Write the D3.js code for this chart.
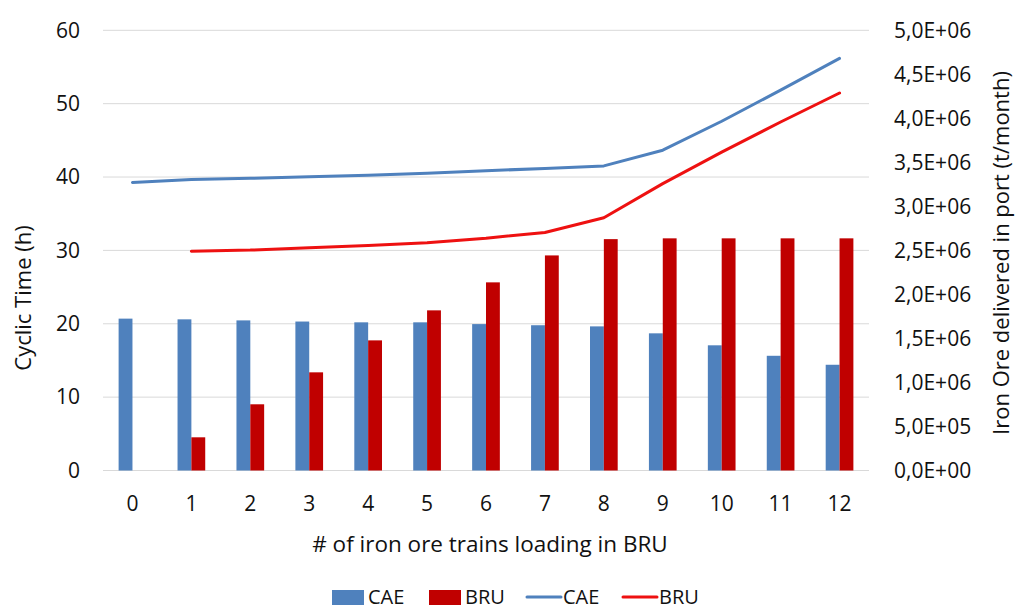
<!DOCTYPE html>
<html>
<head>
<meta charset="utf-8">
<script src="https://cdn.jsdelivr.net/npm/d3@7"></script>
<style>
  html, body { margin: 0; padding: 0; background: #fff; }
  svg { display: block; font-family: "Open Sans", Lato, sans-serif; }
</style>
</head>
<body>
<svg id="chart" width="1016" height="610"></svg>
<script>
// Number of iron ore trains loading in BRU
const categories = [0, 1, 2, 3, 4, 5, 6, 7, 8, 9, 10, 11, 12];

// Iron ore delivered in port (t/month) – bars, right axis
const caeDelivered = [1725000, 1717000, 1705000, 1692000, 1683000, 1683000, 1663000, 1650000, 1637000, 1558000, 1422000, 1303000, 1201000];
const bruDelivered = [0, 377000, 752000, 1115000, 1478000, 1819000, 2137000, 2443000, 2628000, 2637000, 2637000, 2637000, 2637000];

// Cyclic time (h) – lines, left axis
const caeCycle = [39.26, 39.68, 39.82, 40.05, 40.26, 40.5, 40.86, 41.17, 41.52, 43.66, 47.6, 51.85, 56.17];
const bruCycle = [null, 29.9, 30.04, 30.36, 30.66, 31.05, 31.66, 32.45, 34.45, 39.1, 43.4, 47.5, 51.45];

const leftTicks = [0, 10, 20, 30, 40, 50, 60];
const rightTicks = [0, 500000, 1000000, 1500000, 2000000, 2500000, 3000000, 3500000, 4000000, 4500000, 5000000];

const seriesNames = ["CAE", "BRU"];
const barColors = { CAE: "#4f81bd", BRU: "#c00000" };
const lineColors = { CAE: "#4f81bd", BRU: "#ee1111" };

const svg = d3.select("#chart");
const plot = { left: 103, right: 869, top: 30.3, bottom: 470.5 };

const x = d3.scaleBand().domain(categories).range([plot.left, plot.right]).paddingInner(0).paddingOuter(0);
const bw = x.bandwidth();
const xInner = d3.scaleBand().domain(seriesNames).range([bw * 0.265, bw * 0.735]);

const yLeft = d3.scaleLinear().domain([0, 60]).range([plot.bottom, plot.top]);
const yRight = d3.scaleLinear().domain([0, 5000000]).range([plot.bottom, plot.top]);

// Excel-style scientific labels with decimal comma, e.g. 5,0E+06
const sci = d3.format(".1e");
function sciComma(v) {
  const [m, e] = sci(v).split("e");
  const sign = e[0];
  const exp = e.slice(1).padStart(2, "0");
  return m.replace(".", ",") + "E" + sign + exp;
}

// Horizontal gridlines
svg.append("g")
  .selectAll("line")
  .data(leftTicks)
  .join("line")
  .attr("x1", plot.left).attr("x2", plot.right)
  .attr("y1", d => yLeft(d)).attr("y2", d => yLeft(d))
  .attr("stroke", "#d9d9d9").attr("stroke-width", 1);

// Left axis
const leftAxis = svg.append("g")
  .attr("transform", `translate(${plot.left - 23},0)`)
  .call(d3.axisLeft(yLeft).tickValues(leftTicks).tickSize(0).tickPadding(0));
leftAxis.select(".domain").remove();

// Right axis
const rightAxis = svg.append("g")
  .attr("transform", `translate(${plot.right + 25},0)`)
  .call(d3.axisRight(yRight).tickValues(rightTicks).tickSize(0).tickPadding(0).tickFormat(sciComma));
rightAxis.select(".domain").remove();

// Bottom axis
const bottomAxis = svg.append("g")
  .attr("transform", `translate(0,${plot.bottom + 26})`)
  .call(d3.axisBottom(x).tickSize(0).tickPadding(0));
bottomAxis.select(".domain").remove();

svg.selectAll(".tick text")
  .attr("font-size", 21)
  .attr("font-family", "'Open Sans', Lato, sans-serif")
  .attr("fill", "#111");

// Bars
const barData = categories.map((c, i) => ({ c, values: [
  { key: "CAE", v: caeDelivered[i] },
  { key: "BRU", v: bruDelivered[i] }
]}));

svg.append("g")
  .selectAll("g")
  .data(barData)
  .join("g")
  .attr("transform", d => `translate(${x(d.c)},0)`)
  .selectAll("rect")
  .data(d => d.values)
  .join("rect")
  .attr("x", d => xInner(d.key))
  .attr("width", xInner.bandwidth())
  .attr("y", d => yRight(d.v))
  .attr("height", d => yRight(0) - yRight(d.v))
  .attr("fill", d => barColors[d.key]);

// Lines
const line = d3.line()
  .defined(d => d.v != null)
  .x(d => x(d.c) + bw / 2)
  .y(d => yLeft(d.v));

[["CAE", caeCycle], ["BRU", bruCycle]].forEach(([name, vals]) => {
  svg.append("path")
    .datum(categories.map((c, i) => ({ c, v: vals[i] })))
    .attr("fill", "none")
    .attr("stroke", lineColors[name])
    .attr("stroke-width", 3)
    .attr("stroke-linejoin", "round")
    .attr("stroke-linecap", "round")
    .attr("d", line);
});

// Axis titles
svg.append("text")
  .attr("x", (plot.left + plot.right) / 2 + 4)
  .attr("y", 552)
  .attr("text-anchor", "middle")
  .attr("font-size", 22.5)
  .attr("fill", "#111")
  .text("# of iron ore trains loading in BRU");

svg.append("text")
  .attr("transform", "translate(31,298) rotate(-90)")
  .attr("text-anchor", "middle")
  .attr("font-size", 22)
  .attr("fill", "#111")
  .text("Cyclic Time (h)");

svg.append("text")
  .attr("transform", "translate(993,253) rotate(-90)")
  .attr("text-anchor", "middle")
  .attr("dy", "0.72em")
  .attr("font-size", 22)
  .attr("fill", "#111")
  .text("Iron Ore delivered in port (t/month)");

// Legend
const legendItems = [
  { type: "bar", key: "CAE", x: 332 },
  { type: "bar", key: "BRU", x: 429 },
  { type: "line", key: "CAE", x: 527 },
  { type: "line", key: "BRU", x: 623 }
];
const legend = svg.append("g").attr("transform", "translate(0,597)");
legendItems.forEach(it => {
  if (it.type === "bar") {
    legend.append("rect")
      .attr("x", it.x).attr("y", -7).attr("width", 32).attr("height", 15)
      .attr("fill", barColors[it.key]);
  } else {
    legend.append("line")
      .attr("x1", it.x).attr("x2", it.x + 34).attr("y1", 0).attr("y2", 0)
      .attr("stroke", lineColors[it.key]).attr("stroke-width", 3)
      .attr("stroke-linecap", "round");
  }
  legend.append("text")
    .attr("x", it.x + 36).attr("y", 0).attr("dy", "0.35em")
    .attr("font-size", 20).attr("fill", "#111")
    .text(it.key);
});
</script>
</body>
</html>
